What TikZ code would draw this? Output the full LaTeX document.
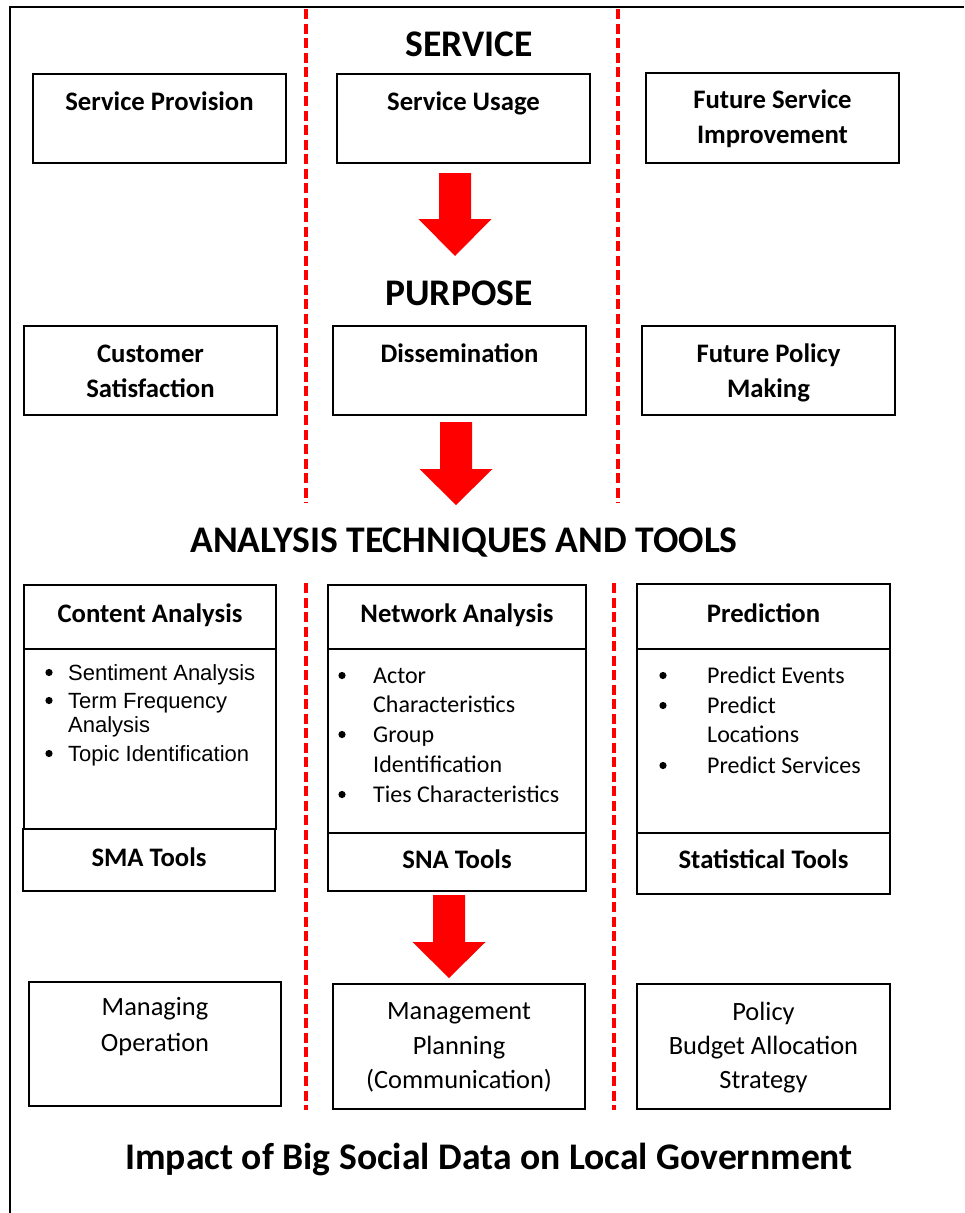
\documentclass[tikz,border=0pt]{standalone}
\usepackage{fontspec}
\setmainfont{Carlito}
\newfontfamily\arialf{Liberation Sans}
\definecolor{pured}{RGB}{255,0,0}
\tikzset{
  box/.style={draw=black, line width=1.1pt, fill=white, inner sep=0pt, outer sep=0pt},
  bt/.style={anchor=base, font=\fontsize{26.7}{31}\selectfont\bfseries, inner sep=0pt},
  rt/.style={anchor=base, font=\fontsize{26.4}{31}\selectfont, inner sep=0pt},
  ttl/.style={anchor=base, font=\fontsize{37.6}{44}\selectfont\bfseries, inner sep=0pt},
  cal/.style={anchor=base west, font=\fontsize{24}{28}\selectfont, inner sep=0pt},
  ari/.style={anchor=base west, font=\fontsize{22}{26}\selectfont\arialf, inner sep=0pt},
  reddash/.style={draw=pured, line width=4pt, dash pattern=on 10pt off 4.5pt},
  blockarrow/.style={fill=pured, draw=none},
  frame/.style={draw=black, line width=2pt}
}
\newcommand\bx[5]{\node[box, minimum width={(#4-#2)*1pt}, minimum height={(#5-#3)*1pt}] (#1) at ({(#2+#4)/2},{(#3+#5)/2}) {};}
\newcommand\blkarrow[6]{% cx, top, neck, tip, half shaft, half head
  \fill[blockarrow] ({#1-#5},#2) -- ({#1+#5},#2) -- ({#1+#5},#3) -- ({#1+#6},#3) -- (#1,#4) -- ({#1-#6},#3) -- ({#1-#5},#3) -- cycle;}
\begin{document}
\begin{tikzpicture}[x=1pt,y=-1pt]
\useasboundingbox (0,0) rectangle (964,1213);
\fill[white] (0,0) rectangle (964,1213);
% frame
\coordinate (ftr) at (964,7);
\coordinate (ftl) at (10,7);
\coordinate (fbl) at (10,1213);
\draw[frame] (ftr) -- (ftl) -- (fbl);
% red dashed separators
\coordinate (d1a) at (306,9); \coordinate (d1b) at (306,503);
\coordinate (d2a) at (618,9); \coordinate (d2b) at (618,503);
\coordinate (d3a) at (306,583); \coordinate (d3b) at (306,1110);
\coordinate (d4a) at (614,583); \coordinate (d4b) at (614,1110);
\draw[reddash] (d1a) -- (d1b);
\draw[reddash] (d2a) -- (d2b);
\draw[reddash] (d3a) -- (d3b);
\draw[reddash] (d4a) -- (d4b);

% SERVICE
\node[ttl] (tservice) at (469,56) {SERVICE};
\bx{sp}{33}{74}{286}{163}
\bx{su}{337}{74}{590}{163}
\bx{fsi}{646}{73}{899}{163}
\node[bt] (tsp) at (159.5,110) {Service Provision};
\node[bt] (tsu) at (463.5,110) {Service Usage};
\node[bt] (tfsi1) at (772.5,108) {Future Service};
\node[bt] (tfsi2) at (772.5,143) {Improvement};
\blkarrow{455}{173}{219}{256}{16}{36.5}

% PURPOSE
\node[ttl] (tpurpose) at (459,305) {PURPOSE};
\bx{cs}{24}{326}{277}{415}
\bx{dis}{333}{326}{586}{415}
\bx{fpm}{642}{326}{895}{415}
\node[bt] (tcs1) at (150.5,362) {Customer};
\node[bt] (tcs2) at (150.5,397) {Satisfaction};
\node[bt] (tdis) at (459.5,362) {Dissemination};
\node[bt] (tfpm1) at (768.5,362) {Future Policy};
\node[bt] (tfpm2) at (768.5,397) {Making};
\blkarrow{456}{422}{469}{505}{16}{36.5}

% ANALYSIS
\node[ttl] (tana) at (464,552) {ANALYSIS TECHNIQUES AND TOOLS};
% Content analysis
\bx{cah}{24}{585}{276}{649}
\bx{cab}{24}{649}{276}{829}
\bx{sma}{23}{829}{275}{891}
\node[bt] (tcah) at (150,622) {Content Analysis};
\node[bt] (tsma) at (149,866) {SMA Tools};
\node[ari] (ca1) at (68,680) {Sentiment Analysis};
\node[ari] (ca2) at (68,708) {Term Frequency};
\node[ari] (ca3) at (68,732) {Analysis};
\node[ari] (ca4) at (68,761) {Topic Identification};
\foreach \yy in {680,708,761}{
  \fill (49,{\yy-7.5}) circle (3.6pt);
}
% Network analysis
\bx{nah}{328}{585}{586}{649}
\bx{nab}{328}{649}{586}{833}
\bx{sna}{328}{833}{586}{891}
\node[bt] (tnah) at (457,622) {Network Analysis};
\node[bt] (tsna) at (457,868) {SNA Tools};
\node[cal] (na1) at (373,683) {Actor};
\node[cal] (na2) at (373,712) {Characteristics};
\node[cal] (na3) at (373,742) {Group};
\node[cal] (na4) at (373,772) {Identification};
\node[cal] (na5) at (373,802) {Ties Characteristics};
\foreach \yy in {683,742,802}{
  \fill (342,{\yy-7.5}) circle (3.6pt);
}
% Prediction
\bx{prh}{637}{584}{890}{649}
\bx{prb}{637}{649}{890}{833}
\bx{stt}{637}{833}{890}{894}
\node[bt] (tprh) at (763.5,622) {Prediction};
\node[bt] (tstt) at (763.5,868) {Statistical Tools};
\node[cal] (pr1) at (707,683) {Predict Events};
\node[cal] (pr2) at (707,713) {Predict};
\node[cal] (pr3) at (707,742) {Locations};
\node[cal] (pr4) at (707,773) {Predict Services};
\foreach \yy in {683,713,773}{
  \fill (663,{\yy-7.5}) circle (3.6pt);
}
\blkarrow{449}{895}{942}{978}{16}{36.5}

% Bottom boxes
\bx{mo}{29}{982}{281}{1106}
\bx{mp}{333}{984}{585}{1109}
\bx{pb}{637}{984}{890}{1109}
\node[rt] (tmo1) at (155,1015) {Managing};
\node[rt] (tmo2) at (155,1051) {Operation};
\node[rt] (tmp1) at (459,1019) {Management};
\node[rt] (tmp2) at (459,1054) {Planning};
\node[rt] (tmp3) at (459,1088) {(Communication)};
\node[rt] (tpb1) at (763.5,1020) {Policy};
\node[rt] (tpb2) at (763.5,1054) {Budget Allocation};
\node[rt] (tpb3) at (763.5,1088) {Strategy};

\node[ttl] (timpact) at (489,1169) {Impact of Big Social Data on Local Government};
\end{tikzpicture}
\end{document}
